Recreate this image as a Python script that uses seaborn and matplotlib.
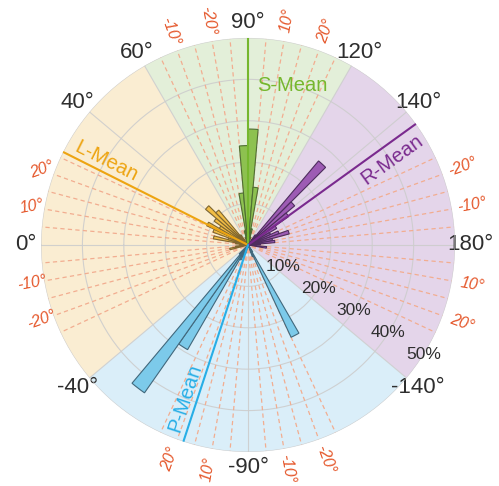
import numpy as np
import matplotlib
matplotlib.use("Agg")
import matplotlib.pyplot as plt
import seaborn as sns

# ---------------------------------------------------------------------------
# Angular ticks (degrees) and radial rings (% of observations)
tick_angles = [0, 40, 60, 90, 120, 140, 180, -140, -90, -40]
tick_labels = ["0°", "40°", "60°", "90°", "120°", "140°", "180°", "-140°", "-90°", "-40°"]
ring_values = [10, 20, 30, 40, 50]
ring_labels = ["10%", "20%", "30%", "40%", "50%"]

# Group sectors (start/end angle in degrees)
group_names = ["L", "S", "R", "P"]
sector_start = [-40, 60, 120, -140]
sector_end = [60, 120, 220, -40]

# Orientation histograms: left bin edge (deg) and frequency (%)
l_bins = [-15, -10, -5, 0, 5, 10, 15, 20, 25, 30, 35, 40, 45, 50]
l_pct = [4.5, 3.0, 2.0, 2.0, 3.0, 8.5, 5.0, 9.0, 11.0, 8.0, 10.0, 13.4, 11.0, 3.0]
s_bins = [70, 75, 80, 85, 90, 95, 100, 105]
s_pct = [2.0, 3.5, 12.6, 24.0, 28.0, 14.0, 4.0, 2.0]
r_bins = [125, 130, 135, 140, 145, 150, 155, 160, 165, 170, 175, 180, 185]
r_pct = [3.0, 26.5, 14.7, 12.0, 8.0, 6.0, 8.0, 10.3, 6.0, 6.5, 3.0, 2.0, 4.5]
p_bins = [-125, -120, -115, -75, -70, -65, -60, -55, -50]
p_pct = [2.0, 24.6, 3.0, 2.0, 3.0, 4.0, 29.2, 43.6, 3.0]
bin_width = 5

# Mean orientation of each group (degrees)
mean_angles = [26.7, 90.0, 144.2, -71.8]
mean_labels = ["L-Mean", "S-Mean", "R-Mean", "P-Mean"]

# Deviation guides around the cardinal directions
cardinals = [0, 90, 180, -90]
guide_offsets = [-25, -20, -15, -10, -5, 5, 10, 15, 20, 25]
dev_offsets = [-20, -10, 10, 20]
dev_labels = {
    0: ["-20°", "-10°", "10°", "20°"],
    90: ["-10°", "-20°", "10°", "20°"],
    180: ["-20°", "-10°", "10°", "20°"],
    -90: ["-20°", "-10°", "10°", "20°"],
}


def rad(deg):
    """Degrees -> radians wrapped into [0, 2*pi)."""
    return np.deg2rad(np.mod(deg, 360))


# ---------------------------------------------------------------------------
sns.set_style("white")
plt.rcParams["font.family"] = ["Liberation Sans", "DejaVu Sans"]

sector_fill = sns.color_palette(["#FAEDD2", "#E3EFD9", "#E4D5EA", "#DAEEF9"])
bar_fill = sns.color_palette(["#F2BD45", "#8DC150", "#9D5BB4", "#7CCAEA"])
bar_edge = ["#7F6630", "#4F6E33", "#4E2D5E", "#41687C"]
mean_color = ["#EDA411", "#76B72E", "#7A2A8E", "#27AEE6"]
guide_color = "#F2AD90"
dev_color = "#E5582C"
text_color = "#2E2E2E"

fig = plt.figure(figsize=(4.99, 4.86), dpi=100)
ax = fig.add_axes([0.0822, 0.0700, 0.8297, 0.8519], projection="polar")
ax.set_theta_zero_location("W")
ax.set_theta_direction(-1)
rmax = 50

# coloured group sectors
for s, e, c in zip(sector_start, sector_end, sector_fill):
    ax.bar(rad(s), rmax, width=np.deg2rad(e - s), bottom=0,
           align="edge", color=c, edgecolor="none", zorder=0.5)

# dashed deviation guides
for c in cardinals:
    for o in guide_offsets:
        t = rad(c + o)
        ax.plot([t, t], [1.0, rmax], ls=(0, (3.4, 2.6)), lw=0.9,
                color=guide_color, zorder=1.2)

# histograms
groups = [(l_bins, l_pct), (s_bins, s_pct), (r_bins, r_pct), (p_bins, p_pct)]
for (bins, pct), fc, ec in zip(groups, bar_fill, bar_edge):
    ax.bar(rad(np.array(bins)), pct, width=np.deg2rad(bin_width), bottom=0,
           align="edge", color=fc, edgecolor=ec, linewidth=0.8, zorder=3)

# mean orientation lines and their labels
for m, col in zip(mean_angles, mean_color):
    t = rad(m)
    ax.plot([t, t], [0, rmax], color=col, lw=1.5, zorder=4)

label_pos = {"L-Mean": (30.5, 39.6, -26.7, "center"),
             "S-Mean": (93.2, 38.6, 0, "left"),
             "R-Mean": (149.5, 40.5, 35.8, "center"),
             "P-Mean": (-67.5, 40.0, 71.8, "center")}
for name, col in zip(mean_labels, mean_color):
    th, r, rot, ha = label_pos[name]
    ax.text(rad(th), r, name, color=col, fontsize=14.5, rotation=rot,
            ha=ha, va="center", zorder=6)

# angular ticks
ax.set_xticks(rad(np.array(tick_angles)))
ax.set_xticklabels(tick_labels, fontsize=16, color=text_color)
ax.tick_params(axis="x", pad=4, length=0)

# radial rings
ax.set_yticks(ring_values)
ax.set_yticklabels([])
ax.tick_params(axis="y", length=0)
ax.grid(True, color="#CDCDCD", lw=0.8, alpha=0.9)
for v, lab in zip(ring_values, ring_labels):
    ax.text(rad(212), v, lab, fontsize=12.5, color=text_color,
            ha="center", va="center", zorder=6)

ax.spines["polar"].set_visible(False)

# deviation labels around the rim
for c in cardinals:
    for o, lab in zip(dev_offsets, dev_labels[c]):
        th = c + o
        phi = (180 - th) % 360
        if phi > 180:
            phi -= 360
        if -90 < phi <= 90:
            rot = phi
        else:
            rot = phi - 180 if phi > 0 else phi + 180
        r = 55.0
        if c == 0:
            rot = abs(rot)
            r = 53.0
        ax.text(rad(th), r, lab, fontsize=11.5, style="italic",
                color=dev_color, rotation=rot, ha="center", va="center",
                rotation_mode="anchor", zorder=6)

ax.set_xlim(0, 2 * np.pi)
ax.set_ylim(0, rmax)

fig.savefig("out.png", dpi=100)
